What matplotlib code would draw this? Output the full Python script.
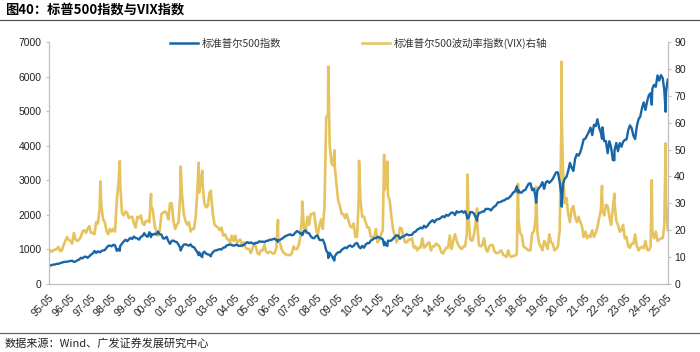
import matplotlib
matplotlib.use("Agg")
import matplotlib.pyplot as plt
import matplotlib.dates as mdates
import pandas as pd
import numpy as np

plt.rcParams['font.family'] = ['Liberation Sans', 'Noto Sans CJK SC', 'DejaVu Sans']

# ---------------- data ----------------
start_month = "1995-05"
# S&P 500 monthly closes, 1995-05 .. 2025-05
spx_1995 = [533, 545, 562, 562, 584, 582, 605, 616]
spx_1996 = [636, 640, 646, 654, 669, 671, 640, 652, 687, 705, 757, 741]
spx_1997 = [786, 791, 757, 801, 848, 885, 954, 899, 947, 915, 955, 970]
spx_1998 = [980, 1049, 1102, 1112, 1091, 1134, 1121, 957, 1017, 1099, 1164, 1229]
spx_1999 = [1280, 1238, 1286, 1335, 1302, 1373, 1329, 1320, 1283, 1363, 1389, 1469]
spx_2000 = [1394, 1366, 1499, 1452, 1421, 1455, 1431, 1518, 1437, 1429, 1315, 1320]
spx_2001 = [1366, 1240, 1160, 1249, 1256, 1224, 1211, 1134, 1041, 1060, 1139, 1148]
spx_2002 = [1130, 1107, 1147, 1077, 1067, 990, 912, 916, 815, 886, 936, 880]
spx_2003 = [856, 841, 848, 917, 964, 975, 990, 1008, 996, 1051, 1058, 1112]
spx_2004 = [1131, 1145, 1126, 1107, 1121, 1141, 1102, 1104, 1115, 1130, 1174, 1212]
spx_2005 = [1181, 1204, 1181, 1157, 1192, 1191, 1234, 1220, 1229, 1207, 1249, 1248]
spx_2006 = [1280, 1281, 1295, 1311, 1270, 1270, 1277, 1304, 1336, 1378, 1401, 1418]
spx_2007 = [1438, 1407, 1421, 1482, 1531, 1503, 1455, 1474, 1527, 1549, 1481, 1468]
spx_2008 = [1379, 1331, 1323, 1386, 1400, 1280, 1267, 1283, 1166, 969, 896, 903]
spx_2009 = [826, 735, 798, 873, 919, 919, 987, 1021, 1057, 1036, 1096, 1115]
spx_2010 = [1074, 1104, 1169, 1187, 1089, 1031, 1102, 1049, 1141, 1183, 1181, 1258]
spx_2011 = [1286, 1327, 1326, 1364, 1345, 1321, 1292, 1219, 1131, 1253, 1247, 1258]
spx_2012 = [1312, 1366, 1408, 1398, 1310, 1362, 1379, 1407, 1441, 1412, 1416, 1426]
spx_2013 = [1498, 1515, 1569, 1598, 1631, 1606, 1686, 1633, 1682, 1757, 1806, 1848]
spx_2014 = [1783, 1859, 1872, 1884, 1924, 1960, 1931, 2003, 1972, 2018, 2068, 2059]
spx_2015 = [1995, 2105, 2068, 2086, 2107, 2063, 2104, 1972, 1920, 2079, 2080, 2044]
spx_2016 = [1940, 1932, 2060, 2065, 2097, 2099, 2174, 2171, 2168, 2126, 2199, 2239]
spx_2017 = [2279, 2364, 2363, 2384, 2412, 2423, 2470, 2472, 2519, 2575, 2648, 2674]
spx_2018 = [2824, 2714, 2641, 2648, 2705, 2718, 2816, 2902, 2914, 2712, 2760, 2507]
spx_2019 = [2704, 2784, 2834, 2946, 2752, 2942, 2980, 2926, 2977, 3038, 3141, 3231]
spx_2020 = [3226, 2954, 2585, 2912, 3044, 3100, 3271, 3500, 3363, 3270, 3622, 3756]
spx_2021 = [3714, 3811, 3973, 4181, 4204, 4298, 4395, 4523, 4308, 4605, 4567, 4766]
spx_2022 = [4516, 4374, 4530, 4132, 4132, 3785, 4130, 3955, 3586, 3872, 4080, 3840]
spx_2023 = [4077, 3970, 4109, 4169, 4180, 4450, 4589, 4508, 4288, 4194, 4568, 4770]
spx_2024 = [4846, 5096, 5254, 5036, 5278, 5460, 5522, 5648, 5762, 5705, 6032, 5882]
spx_2025 = [6041, 5955, 5612, 5569, 5912]

# VIX, typical monthly level, 1995-05 .. 2025-05
vix_1995 = [12.5, 12.0, 12.5, 12.8, 13.0, 13.8, 12.2, 12.5]
vix_1996 = [14.5, 16.0, 17.5, 16.5, 16.0, 15.0, 19.0, 16.5, 16.0, 16.5, 17.5, 19.5]
vix_1997 = [20.0, 19.0, 20.5, 21.5, 19.0, 19.0, 18.5, 23.0, 22.5, 28.0, 29.0, 24.0]
vix_1998 = [23.0, 19.5, 18.5, 20.5, 19.5, 20.5, 19.5, 31.0, 38.0, 37.0, 26.5, 25.5]
vix_1999 = [27.0, 26.5, 24.5, 25.0, 25.0, 22.5, 21.0, 25.0, 24.5, 25.5, 22.5, 22.0]
vix_2000 = [23.5, 23.5, 23.0, 29.0, 27.5, 22.0, 19.5, 18.0, 20.0, 26.0, 26.5, 27.0]
vix_2001 = [26.5, 24.0, 30.0, 30.0, 23.5, 20.5, 22.0, 23.0, 34.0, 33.0, 26.0, 23.5]
vix_2002 = [22.0, 23.0, 19.5, 20.5, 20.5, 25.0, 35.0, 34.0, 38.0, 37.0, 30.0, 28.5]
vix_2003 = [29.0, 34.0, 33.0, 26.0, 22.0, 21.5, 21.0, 20.0, 21.0, 18.0, 18.5, 17.0]
vix_2004 = [16.5, 15.5, 18.0, 16.0, 18.0, 15.5, 16.0, 16.5, 14.0, 15.5, 13.5, 13.0]
vix_2005 = [13.0, 11.5, 13.0, 15.0, 14.0, 11.5, 11.0, 12.5, 12.5, 14.5, 12.0, 11.5]
vix_2006 = [12.0, 11.8, 11.3, 11.5, 13.5, 16.5, 15.5, 13.0, 11.8, 11.2, 10.8, 10.8]
vix_2007 = [10.7, 11.5, 14.0, 13.0, 13.0, 14.5, 17.5, 26.0, 21.0, 19.0, 25.0, 22.0]
vix_2008 = [26.0, 26.0, 26.5, 21.0, 18.0, 21.5, 24.0, 20.5, 29.0, 62.0, 63.0, 52.0]
vix_2009 = [45.0, 44.0, 44.0, 37.0, 31.0, 29.0, 26.0, 26.0, 24.5, 26.0, 23.5, 21.5]
vix_2010 = [21.0, 22.5, 17.5, 17.5, 32.0, 31.0, 25.0, 25.0, 23.0, 21.0, 21.0, 17.5]
vix_2011 = [17.5, 17.5, 20.5, 15.5, 16.5, 18.5, 20.0, 35.0, 37.0, 33.0, 31.0, 25.0]
vix_2012 = [20.0, 18.0, 15.5, 17.0, 21.0, 20.5, 17.5, 15.5, 15.5, 16.5, 16.5, 17.0]
vix_2013 = [13.5, 14.0, 12.5, 13.5, 13.5, 17.0, 13.5, 14.0, 15.0, 15.5, 12.5, 14.0]
vix_2014 = [14.0, 15.0, 14.5, 14.0, 12.0, 11.3, 12.5, 13.5, 13.5, 18.0, 13.0, 16.0]
vix_2015 = [18.5, 16.0, 14.5, 13.5, 13.0, 14.0, 14.0, 19.0, 24.0, 16.5, 16.0, 18.0]
vix_2016 = [22.5, 22.0, 14.5, 14.0, 14.5, 17.0, 13.0, 12.0, 14.0, 14.5, 14.5, 12.2]
vix_2017 = [11.5, 11.5, 12.0, 12.5, 11.0, 10.5, 10.0, 12.5, 10.5, 10.0, 10.5, 10.5]
vix_2018 = [11.0, 24.0, 19.0, 18.0, 14.0, 13.5, 13.0, 12.5, 12.5, 19.0, 19.5, 24.0]
vix_2019 = [19.5, 15.0, 14.0, 12.5, 16.0, 15.0, 13.0, 18.5, 15.5, 15.0, 12.5, 13.0]
vix_2020 = [14.0, 20.0, 57.0, 42.0, 30.0, 32.0, 26.0, 23.0, 28.0, 29.0, 25.0, 23.0]
vix_2021 = [25.0, 23.0, 21.5, 17.5, 19.5, 17.0, 18.0, 17.5, 20.0, 17.5, 19.0, 21.0]
vix_2022 = [24.5, 27.5, 27.0, 25.5, 29.5, 29.0, 25.0, 22.0, 28.0, 30.0, 23.5, 22.0]
vix_2023 = [19.5, 20.0, 22.0, 17.0, 17.5, 14.0, 13.5, 15.0, 15.0, 18.5, 14.0, 12.5]
vix_2024 = [13.5, 13.8, 13.3, 16.0, 12.8, 12.5, 14.0, 19.5, 17.0, 19.5, 16.0, 16.5]
vix_2025 = [17.0, 17.0, 21.5, 31.0, 20.0]

# stress-episode readings (date, S&P 500, VIX)
event_dates = ['1997-10-28', '1998-10-08', '2000-04-14', '2001-09-21', '2002-08-05',
               '2002-10-09', '2003-03-11', '2006-06-13', '2007-08-16', '2008-11-20',
               '2009-03-09', '2010-05-20', '2011-08-08', '2011-10-03', '2015-08-24',
               '2016-02-11', '2018-02-05', '2018-12-24', '2020-03-16', '2020-03-23',
               '2022-03-07', '2022-10-12', '2024-08-05', '2025-04-08']
event_spx = [921, 960, 1357, 966, 834, 777, 800, 1223, 1411, 752, 677, 1071, 1119, 1099,
             1893, 1829, 2649, 2351, 2386, 2237, 4201, 3577, 5186, 4982]
event_vix = [38.2, 45.7, 33.5, 43.7, 45.1, 42.1, 34.7, 23.8, 30.7, 80.9, 49.7, 45.8, 48.0,
             45.5, 40.7, 28.1, 37.3, 36.1, 82.7, 61.6, 36.5, 33.6, 38.6, 52.3]

tick_years = list(range(1995, 2026))
label_spx = "标准普尔500指数"
label_vix = "标准普尔500波动率指数(VIX)右轴"
title = "图40：标普500指数与VIX指数"
source = "数据来源：Wind、广发证券发展研究中心"

# ---------------- assemble ----------------
spx_m = sum([spx_1995, spx_1996, spx_1997, spx_1998, spx_1999, spx_2000, spx_2001, spx_2002,
             spx_2003, spx_2004, spx_2005, spx_2006, spx_2007, spx_2008, spx_2009, spx_2010,
             spx_2011, spx_2012, spx_2013, spx_2014, spx_2015, spx_2016, spx_2017, spx_2018,
             spx_2019, spx_2020, spx_2021, spx_2022, spx_2023, spx_2024, spx_2025], [])
vix_m = sum([vix_1995, vix_1996, vix_1997, vix_1998, vix_1999, vix_2000, vix_2001, vix_2002,
             vix_2003, vix_2004, vix_2005, vix_2006, vix_2007, vix_2008, vix_2009, vix_2010,
             vix_2011, vix_2012, vix_2013, vix_2014, vix_2015, vix_2016, vix_2017, vix_2018,
             vix_2019, vix_2020, vix_2021, vix_2022, vix_2023, vix_2024, vix_2025], [])
mdates_idx = pd.date_range(start_month + "-01", periods=len(spx_m), freq="MS") + pd.Timedelta(days=14)
df = pd.DataFrame({"spx": spx_m, "vix": vix_m}, index=mdates_idx)
ev = pd.DataFrame({"spx": event_spx, "vix": event_vix}, index=pd.to_datetime(event_dates))
df = pd.concat([df, ev]).sort_index()

# ---------------- figure ----------------
fig = plt.figure(figsize=(7.0, 3.52), dpi=100)
ax = fig.add_axes([49/700, 1-284/352, (668-49)/700, (284-42)/352])
ax2 = ax.twinx()

blue = "#1866A8"
yellow = "#E6C35E"
l2, = ax2.plot(df.index, df["vix"], color=yellow, lw=1.9, label=label_vix)
l1, = ax.plot(df.index, df["spx"], color=blue, lw=1.7, label=label_spx)
ax.set_zorder(ax2.get_zorder() + 1)
ax.patch.set_visible(False)

ax.set_ylim(0, 7000)
ax.set_yticks(np.arange(0, 7001, 1000))
ax2.set_ylim(0, 90)
ax2.set_yticks(np.arange(0, 91, 10))

ax.set_xlim(pd.Timestamp("1995-05-01"), pd.Timestamp("2025-05-20"))
ticks = [pd.Timestamp(f"{y}-05-01") for y in tick_years]
ax.set_xticks(ticks)
ax.set_xticklabels([t.strftime("%y-%m") for t in ticks], rotation=45, ha="right",
                   rotation_mode="anchor", fontsize=7.5, color="#222222")
ax.tick_params(axis="x", length=0, pad=6)

gray = "#BFBFBF"
for a in (ax, ax2):
    a.spines["top"].set_visible(False)
    for s in ("left", "right", "bottom"):
        a.spines[s].set_color(gray)
        a.spines[s].set_linewidth(0.9)
ax.spines["right"].set_visible(False)
ax2.spines["left"].set_visible(False)
ax2.spines["bottom"].set_visible(False)
ax.tick_params(axis="y", length=2.5, width=0.8, color=gray, labelsize=7.5,
               labelcolor="#222222", pad=3)
ax2.tick_params(axis="y", length=2.5, width=0.8, color=gray, labelsize=7.5,
                labelcolor="#222222", pad=2)

leg = ax.legend(handles=[l1, l2], loc="center", bbox_to_anchor=(0.5, 0.995), ncol=2,
                frameon=False, handlelength=2.7, handletextpad=0.3,
                columnspacing=7.8, prop={"family": ["Noto Sans CJK SC"], "size": 7.5})
for t in leg.get_texts():
    t.set_color("#333333")
for h in leg.legend_handles:
    h.set_linewidth(1.8)

fig.text(5/700, 1-10/352, title, fontsize=9.5, fontweight="bold", va="center", ha="left",
         family=["Noto Sans CJK SC"])
fig.add_artist(plt.Line2D([0, 1], [1-20/352, 1-20/352], color="#555555", lw=0.9,
                          transform=fig.transFigure))
fig.add_artist(plt.Line2D([0, 1], [1-333/352, 1-333/352], color="#666666", lw=0.9,
                          transform=fig.transFigure))
fig.text(5/700, 1-343/352, source, fontsize=8, va="center", ha="left",
         family=["Noto Sans CJK SC", "Liberation Sans"], color="#222222")

fig.savefig("out.png", dpi=100)
